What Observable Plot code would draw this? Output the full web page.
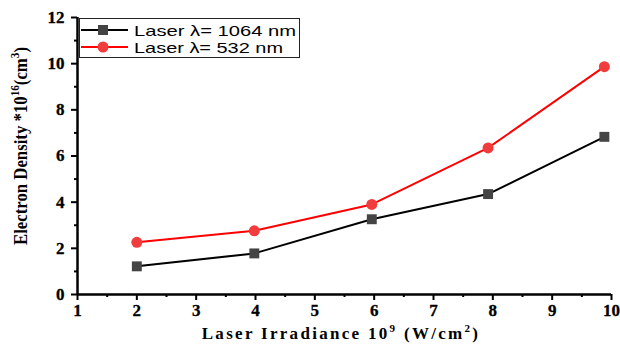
<!DOCTYPE html>
<html><head><meta charset="utf-8">
<script src="https://cdn.jsdelivr.net/npm/d3@7"></script>
<script src="https://cdn.jsdelivr.net/npm/@observablehq/plot@0.6"></script>
<style>body{margin:0;background:#fff}</style>
</head><body><div id="chart"></div>
<script>
const irradiance1064 = [2, 3.98, 5.96, 7.92, 9.88];
const density1064 = [1.22, 1.78, 3.26, 4.35, 6.83];
const irradiance532 = [2, 3.98, 5.96, 7.92, 9.88];
const density532 = [2.26, 2.76, 3.9, 6.35, 9.87];
const seriesNames = ["Laser λ= 1064 nm", "Laser λ= 532 nm"];
const xTicks = [1, 2, 3, 4, 5, 6, 7, 8, 9, 10];
const xMinor = [1.5, 2.5, 3.5, 4.5, 5.5, 6.5, 7.5, 8.5, 9.5];
const yTicks = [0, 2, 4, 6, 8, 10, 12];
const yMinor = [1, 3, 5, 7, 9, 11];
const xTitle = "Laser Irradiance 10";
const yTitle = "Electron Density *10";

const s1064 = irradiance1064.map((x, i) => ({x, y: density1064[i]}));
const s532 = irradiance532.map((x, i) => ({x, y: density532[i]}));

const serif = "Liberation Serif";
const sans = "Liberation Sans";

const chart = Plot.plot({
  width: 620, height: 345,
  marginLeft: 77, marginRight: 9, marginTop: 17, marginBottom: 51,
  style: {background: "#fff", overflow: "visible"},
  x: {domain: [1, 10]},
  y: {domain: [0, 12]},
  marks: [
    Plot.axisX({ticks: xTicks, tickSize: 6, tickFormat: () => "", label: null, strokeWidth: 2}),
    Plot.axisX({ticks: xMinor, tickSize: 3, tickFormat: () => "", label: null, strokeWidth: 2}),
    Plot.axisY({ticks: yTicks, tickSize: 6, tickFormat: () => "", label: null, strokeWidth: 2}),
    Plot.axisY({ticks: yMinor, tickSize: 3, tickFormat: () => "", label: null, strokeWidth: 2}),
    Plot.text(xTicks, {x: d => d, y: () => 0, text: d => String(d), dy: 16, fontFamily: serif, fontWeight: "bold", fontSize: 17, fill: "#000", stroke: "#000", strokeWidth: 0.3, clip: false}),
    Plot.text(yTicks, {x: () => 1, y: d => d, text: d => String(d), dx: -13, textAnchor: "end", fontFamily: serif, fontWeight: "bold", fontSize: 17, fill: "#000", stroke: "#000", strokeWidth: 0.3, clip: false}),
    Plot.ruleY([0], {stroke: "#000", strokeWidth: 2.5}),
    Plot.ruleX([1], {stroke: "#000", strokeWidth: 2.5}),
    Plot.line(s1064, {x: "x", y: "y", stroke: "#000", strokeWidth: 2}),
    Plot.line(s532, {x: "x", y: "y", stroke: "#ff0000", strokeWidth: 2}),
    Plot.dot(s1064, {x: "x", y: "y", symbol: "square", r: 5.6, fill: "#444", stroke: "none"}),
    Plot.dot(s532, {x: "x", y: "y", symbol: "circle", r: 5.5, fill: "#f03c3c", stroke: "none"})
  ]
});
document.getElementById("chart").appendChild(chart);

const svg = d3.select(chart);

// x axis title
const xt = svg.append("text").attr("x", 341).attr("y", 339).attr("text-anchor", "middle")
  .attr("font-family", serif).attr("font-weight", "bold").attr("font-size", 17)
  .attr("letter-spacing", 2.3).attr("fill", "#000");
xt.append("tspan").text(xTitle);
xt.append("tspan").attr("font-size", 11).attr("dy", -7).text("9");
xt.append("tspan").attr("dy", 7).text(" (W/cm");
xt.append("tspan").attr("font-size", 11).attr("dy", -7).text("2");
xt.append("tspan").attr("dy", 7).text(")");

// y axis title
const yt = svg.append("text").attr("transform", "translate(27,146) rotate(-90)").attr("text-anchor", "middle")
  .attr("font-family", serif).attr("font-weight", "bold").attr("font-size", 18)
  .attr("textLength", 198).attr("lengthAdjust", "spacingAndGlyphs").attr("fill", "#000");
yt.append("tspan").text(yTitle);
yt.append("tspan").attr("font-size", 12).attr("dy", -8).text("16");
yt.append("tspan").attr("dy", 8).text("(cm");
yt.append("tspan").attr("font-size", 12).attr("dy", -8).text("3");
yt.append("tspan").attr("dy", 8).text(")");

// legend
const lg = svg.append("g").attr("text-anchor", "start");
lg.append("rect").attr("x", 79.5).attr("y", 18.5).attr("width", 220).attr("height", 39)
  .attr("fill", "#fff").attr("stroke", "#222").attr("stroke-width", 1);
const entries = [
  {name: seriesNames[0], color: "#000", fill: "#444", sym: "square", y: 30, len: 162},
  {name: seriesNames[1], color: "#ff0000", fill: "#f03c3c", sym: "circle", y: 47, len: 149}
];
entries.forEach(e => {
  lg.append("line").attr("x1", 81).attr("x2", 128).attr("y1", e.y).attr("y2", e.y)
    .attr("stroke", e.color).attr("stroke-width", 2);
  if (e.sym === "square") lg.append("rect").attr("x", 98).attr("y", e.y - 5).attr("width", 10).attr("height", 10).attr("fill", e.fill);
  else lg.append("circle").attr("cx", 103).attr("cy", e.y).attr("r", 5.5).attr("fill", e.fill);
  lg.append("text").attr("x", 134).attr("y", e.y + 5.5).attr("text-anchor", "start").attr("font-family", sans).attr("font-size", 15)
    .attr("textLength", e.len).attr("lengthAdjust", "spacingAndGlyphs").attr("fill", "#000").text(e.name);
});
</script></body></html>
